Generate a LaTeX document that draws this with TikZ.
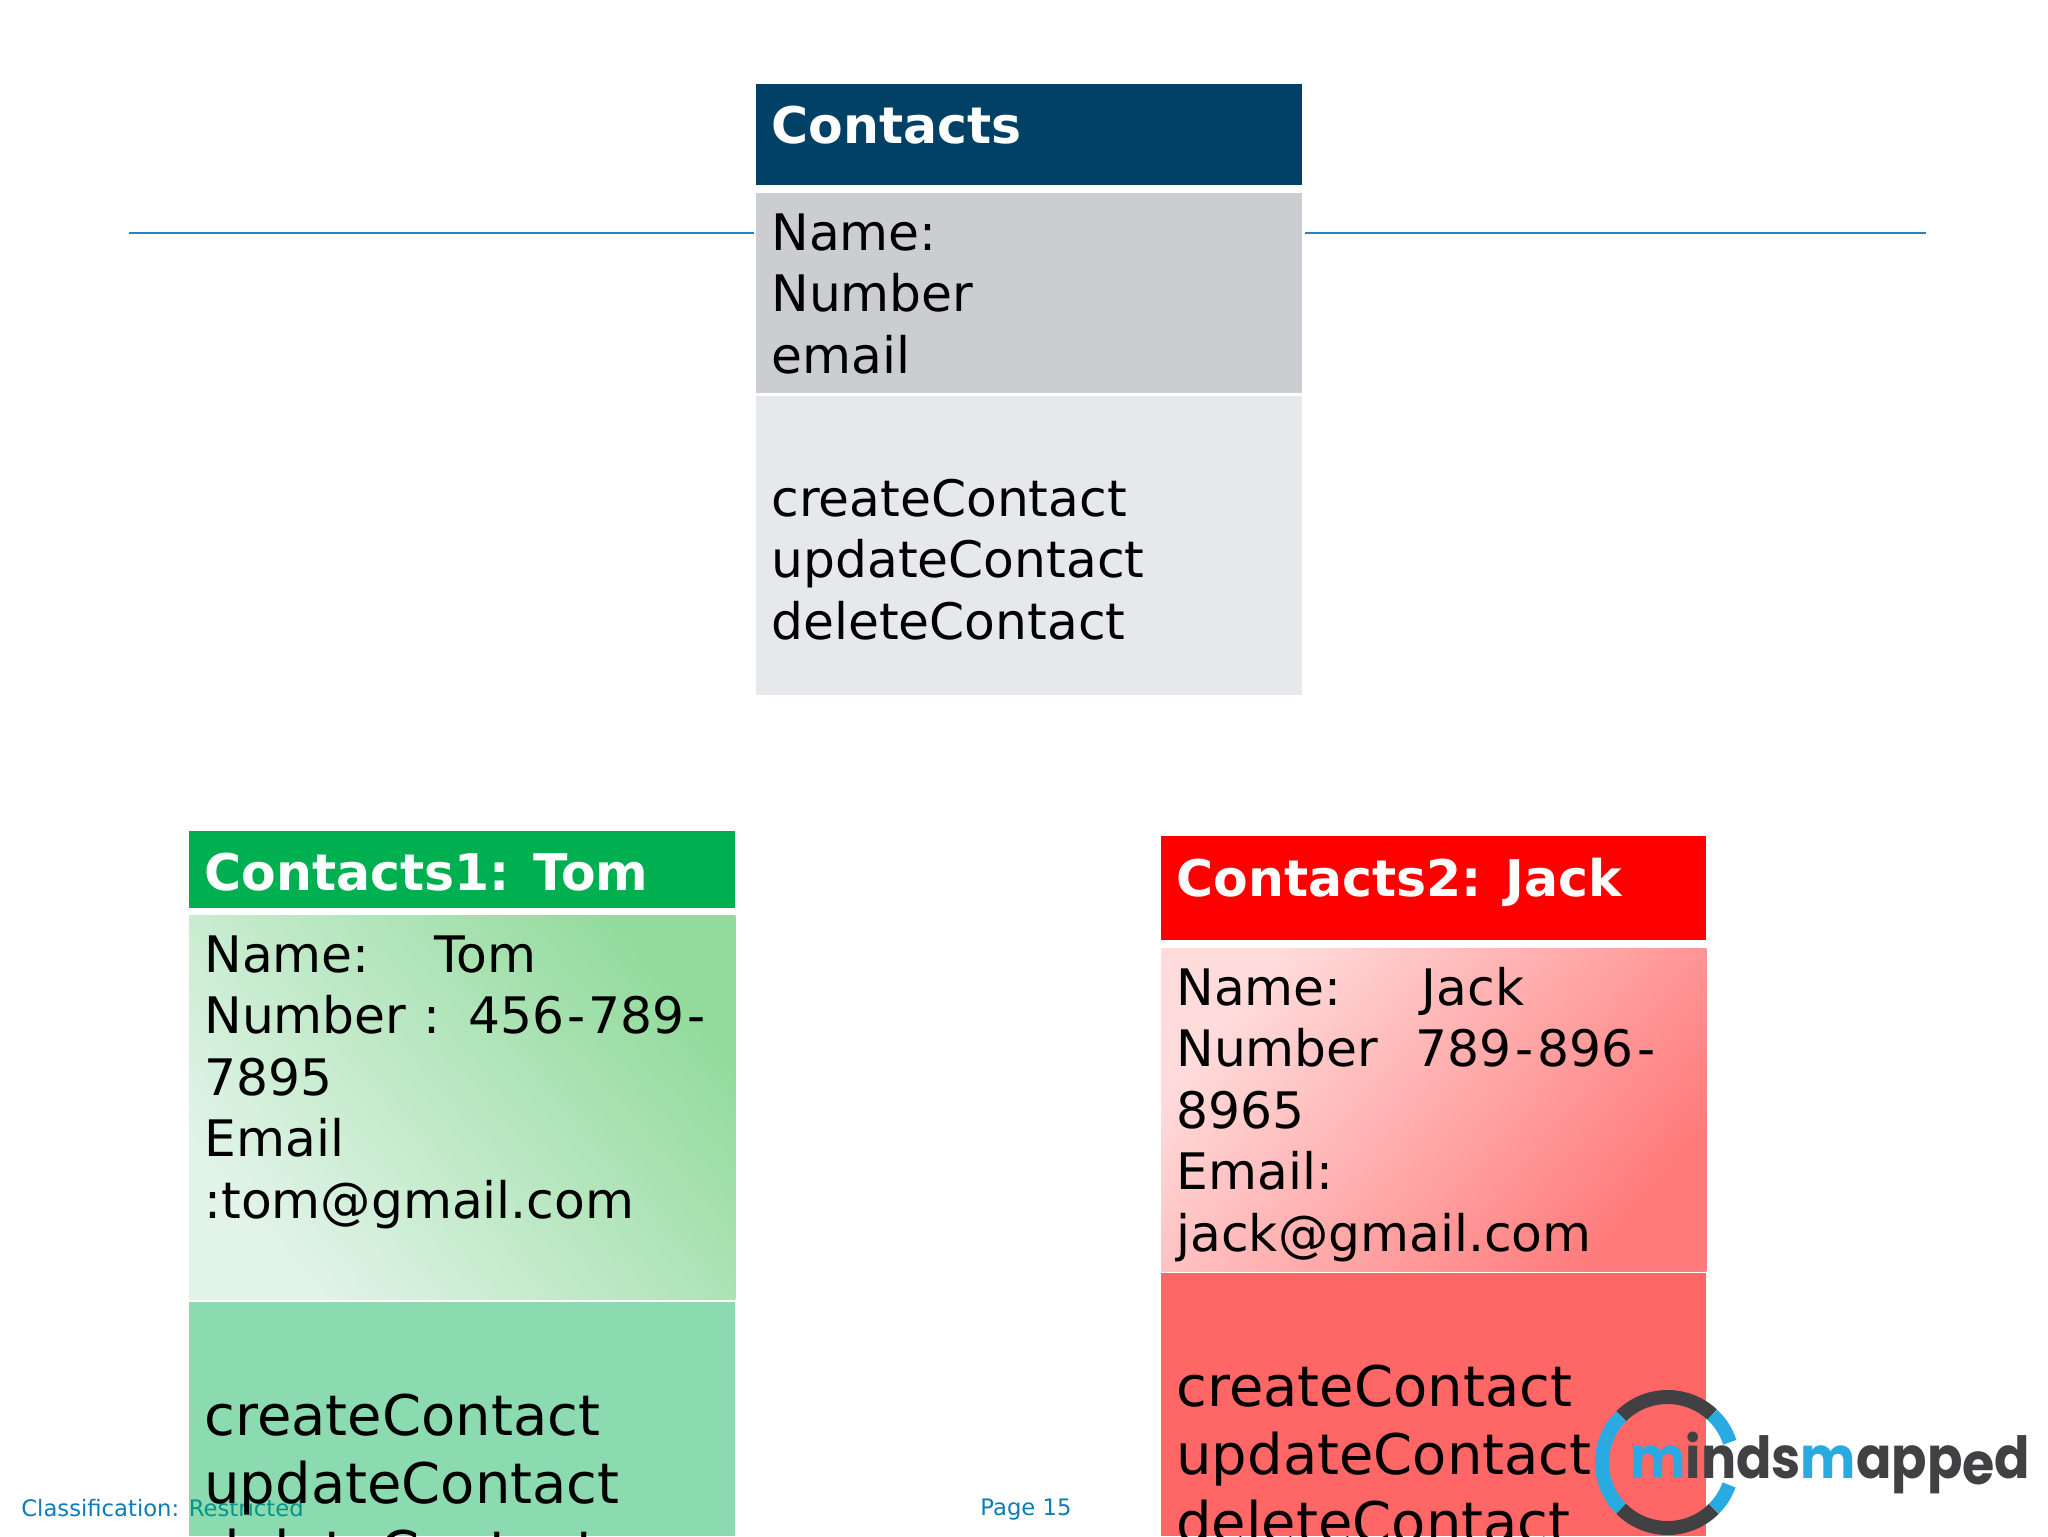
\documentclass[tikz,border=0pt]{standalone}
\usepackage{xcolor}
\usepackage{fontspec}
\setmainfont{DejaVu Sans}
\newfontfamily\logofont{Poppins}
\usepackage{tikz}
\definecolor{navy}{HTML}{004165}
\definecolor{greyband}{HTML}{CBCDD1}
\definecolor{paleband}{HTML}{E7E8EC}
\definecolor{tomgreen}{HTML}{00B050}
\definecolor{tomlight}{HTML}{E2F4E8}
\definecolor{tomdark}{HTML}{93DB9D}
\definecolor{jacklight}{HTML}{FFDCDC}
\definecolor{jackdark}{HTML}{FF7A7A}
\definecolor{footblue}{HTML}{0A7DB8}
\definecolor{rulecolor}{HTML}{2183C4}
\definecolor{logodark}{HTML}{414042}
\definecolor{logoblue}{HTML}{29ABE2}
\tikzstyle{box}=[anchor=north west,inner sep=0pt,draw=none]
\tikzstyle{heading}=[anchor=base west,inner sep=0pt,text=white,font=\fontsize{25.25}{30}\selectfont\bfseries]
\tikzstyle{lines}=[anchor=base west,inner sep=0pt,text=black,text width=270pt,align=left,font=\fontsize{25.15}{30.75}\selectfont]
\tikzstyle{biglines}=[lines,font=\fontsize{28}{34}\selectfont]
\tikzstyle{foot}=[anchor=base west,inner sep=0pt,text=footblue,font=\fontsize{11.35}{14}\selectfont]
\tikzstyle{logoarc}=[line width=7pt]

\begin{document}
\begin{tikzpicture}[x=0.5pt,y=-0.5pt]
        \useasboundingbox (0,0) rectangle (2048,1536);
        % footer goes under the see-through method boxes
        \node at (21,1516) [foot] (classification) {Classification: Restricted};
        \node at (980,1515) [foot] (page) {Page 15};

        \coordinate (ruleLA) at (129,233);
        \coordinate (ruleLB) at (754,233);
        \coordinate (ruleRA) at (1305,233);
        \coordinate (ruleRB) at (1926,233);
        \draw [rulecolor,line width=0.75pt] (ruleLA) -- (ruleLB);
        \draw [rulecolor,line width=0.75pt] (ruleRA) -- (ruleRB);

        % class
        \node at (756,84) [box,fill=navy,minimum width=273pt,minimum height=50.5pt] (classHead) {};
        \node at (756,193) [box,fill=greyband,minimum width=273pt,minimum height=100pt] (classAttr) {};
        \node at (756,396) [box,fill=paleband,minimum width=273pt,minimum height=149.5pt] (classOps) {};
        \node at (771,143) [heading] (classTitle) {Contacts};
        \node at (771,250) [lines] (classAttrText) {Name:\\Number\\email};
        \node at (771,516) [lines] (classOpsText) {createContact\\updateContact\\deleteContact};

        % object Tom
        \node at (189,831) [box,fill=tomgreen,minimum width=273pt,minimum height=38.5pt] (tomHead) {};
        \node at (189,915) [box,left color=tomlight,right color=tomdark,shading angle=130,minimum width=273pt,minimum height=192pt] (tomAttr) {};
        \node at (189,1302) [box,fill=tomgreen,fill opacity=0.45,minimum width=273pt,minimum height=117pt] (tomOps) {};
        \node at (204,890) [heading] (tomTitle) {Contacts1: Tom};
        \node at (204,972) [lines] (tomAttrText) {Name:\hspace{32.5pt}Tom\\Number :\hspace{14pt}456\kern1.5pt-\kern1.5pt789\kern1.5pt-\\7895\\Email\\:tom@gmail.com};
        \node at (204,1435) [biglines] (tomOpsText) {createContact\\updateContact\\deleteContact};

        % object Jack
        \node at (1161,836) [box,fill=red,minimum width=272.5pt,minimum height=52pt] (jackHead) {};
        \node at (1161,948) [box,left color=jacklight,right color=jackdark,shading angle=50,minimum width=272.5pt,minimum height=161.5pt] (jackAttr) {};
        \node at (1161,1273) [box,fill=red,fill opacity=0.6,minimum width=272.5pt,minimum height=131.5pt] (jackOps) {};
        \node at (1176,896) [heading] (jackTitle) {Contacts2: Jack};
        \node at (1176,1005) [lines] (jackAttrText) {Name:\hspace{40pt}Jack\\Number\hspace{18.5pt}789\kern2pt-\kern2pt896\kern2pt-\\8965\\Email:\\jack@gmail.com};
        \node at (1176,1406) [biglines] (jackOpsText) {createContact\\updateContact\\deleteContact};

        % logo
        \coordinate (logoC) at (1667.5,1462.5);
        \draw [logoarc,logodark] ([shift=(47:32.75pt)]logoC) arc [start angle=47,end angle=135,radius=32.75pt];
        \draw [logoarc,logoblue] ([shift=(135:32.75pt)]logoC) arc [start angle=135,end angle=225,radius=32.75pt];
        \draw [logoarc,logodark] ([shift=(225:32.75pt)]logoC) arc [start angle=225,end angle=315,radius=32.75pt];
        \draw [logoarc,logoblue] ([shift=(315:32.75pt)]logoC) arc [start angle=315,end angle=340,radius=32.75pt];
        \draw [logoarc,logoblue] ([shift=(18:32.75pt)]logoC) arc [start angle=18,end angle=47,radius=32.75pt];
        \node at (1630,1478) [anchor=base west,inner sep=0pt,text=logodark,font=\fontsize{29}{34}\logofont\bfseries\selectfont] (logoText) {\scalebox{0.9}[1]{\textcolor{logoblue}{m}inds\textcolor{logoblue}{m}app\raisebox{-3pt}{e}d}};
      \end{tikzpicture}
\end{document}
